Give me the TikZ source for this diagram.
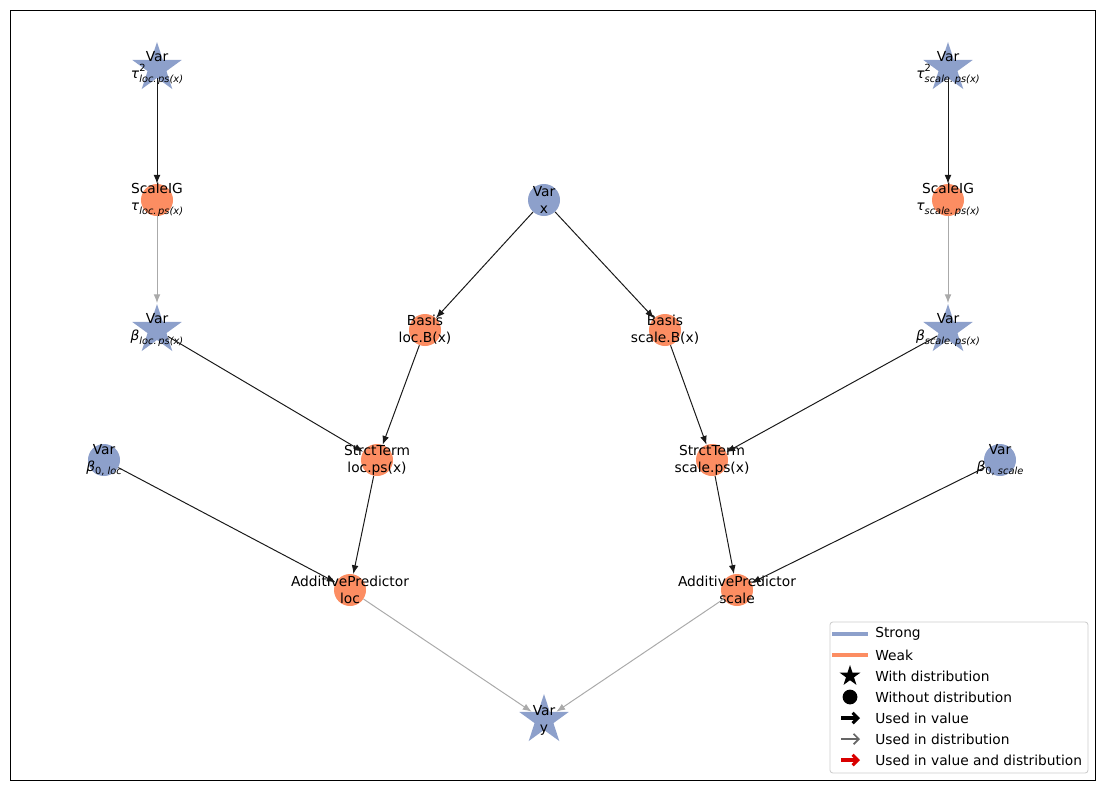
\documentclass[tikz,border=0pt]{standalone}
\usepackage{fontspec}
\setmainfont{DejaVu Sans}
\usepackage{tikz}
\usetikzlibrary{shapes.geometric, arrows.meta, positioning}
\definecolor{strong-blue}{HTML}{8DA0CB}
\definecolor{weak-orange}{HTML}{FC8D62}
\definecolor{dist-gray}{HTML}{AAAAAA}
\newcommand{\subsz}{\fontsize{7}{8}\selectfont}
\newcommand{\sym}[2]{\textit{#1}\raisebox{-0.5ex}{\subsz\itshape #2}}
\newcommand{\symsq}[2]{\textit{#1}\rlap{\raisebox{0.95ex}{\subsz 2}}\raisebox{-0.6ex}{\subsz\itshape #2}}

\begin{document}
\begin{tikzpicture}[
    x=0.025cm, y=-0.025cm,
    lbl/.style={align=center, inner sep=0pt, font=\fontsize{9.8}{12}\selectfont},
    strongstar/.style={star, star points=5, star point ratio=2.618, fill=strong-blue, inner sep=0pt, minimum size=1.3cm},
    strongdot/.style={circle, fill=strong-blue, inner sep=0pt, minimum size=0.8cm},
    weakdot/.style={circle, fill=weak-orange, inner sep=0pt, minimum size=0.8cm},
    valedge/.style={-{Latex[length=2.2mm, width=1.7mm]}, line width=0.7pt, black!90},
    distedge/.style={-{Latex[length=2.2mm, width=1.7mm]}, line width=0.7pt, dist-gray},
    legtext/.style={anchor=west, inner sep=0pt, font=\fontsize{9.8}{12}\selectfont}
]
    \useasboundingbox (0,0) rectangle (1105,790);
    \draw[line width=0.6pt] (10,10) rectangle (1095,780);

    % loc side
    \node (tauL) [strongstar, label={[lbl]center:Var\\\symsq{τ}{loc.\,ps(x)}}] at (157,68) {};
    \node (sigL) [weakdot, label={[lbl]center:ScaleIG\\\sym{τ}{loc.\,ps(x)}}] at (157,200) {};
    \node (betaL) [strongstar, label={[lbl]center:Var\\\sym{β}{loc.\,ps(x)}}] at (157,330) {};
    \node (bzeroL) [strongdot, label={[lbl]center:Var\\\sym{β}{\upshape 0, \itshape loc}}] at (104,460) {};
    \node (basisL) [weakdot, label={[lbl]center:Basis\\loc.B(x)}] at (425,330) {};
    \node (termL) [weakdot, label={[lbl]center:StrctTerm\\loc.ps(x)}] at (377,460) {};
    \node (predL) [weakdot, label={[lbl]center:AdditivePredictor\\loc}] at (350,590) {};

    % scale side
    \node (tauS) [strongstar, label={[lbl]center:Var\\\symsq{τ}{scale.\,ps(x)}}] at (948,68) {};
    \node (sigS) [weakdot, label={[lbl]center:ScaleIG\\\sym{τ}{scale.\,ps(x)}}] at (948,200) {};
    \node (betaS) [strongstar, label={[lbl]center:Var\\\sym{β}{scale.\,ps(x)}}] at (948,330) {};
    \node (bzeroS) [strongdot, label={[lbl]center:Var\\\sym{β}{\upshape 0, \itshape scale}}] at (1000,460) {};
    \node (basisS) [weakdot, label={[lbl]center:Basis\\scale.B(x)}] at (665,330) {};
    \node (termS) [weakdot, label={[lbl]center:StrctTerm\\scale.ps(x)}] at (712,460) {};
    \node (predS) [weakdot, label={[lbl]center:AdditivePredictor\\scale}] at (737,590) {};

    % shared
    \node (varx) [strongdot, label={[lbl]center:Var\\x}] at (544,200) {};
    \node (vary) [strongstar, label={[lbl]center:Var\\y}] at (544,720) {};

    \draw [valedge] (tauL) -- (sigL);
    \draw [distedge] (sigL) -- (betaL);
    \draw [valedge] (betaL) -- (termL);
    \draw [valedge] (varx) -- (basisL);
    \draw [valedge] (basisL) -- (termL);
    \draw [valedge] (termL) -- (predL);
    \draw [valedge] (bzeroL) -- (predL);
    \draw [distedge] (predL) -- (vary);

    \draw [valedge] (tauS) -- (sigS);
    \draw [distedge] (sigS) -- (betaS);
    \draw [valedge] (betaS) -- (termS);
    \draw [valedge] (varx) -- (basisS);
    \draw [valedge] (basisS) -- (termS);
    \draw [valedge] (termS) -- (predS);
    \draw [valedge] (bzeroS) -- (predS);
    \draw [distedge] (predS) -- (vary);

    % legend
    \node (legend) [draw=black!20, fill=white, rounded corners=2pt, line width=0.6pt,
        minimum width=258*0.025cm, minimum height=151*0.025cm] at (959,697.5) {};
    \node (lgStrong) [legtext] at (875,634) {Strong};
    \node (lgWeak) [legtext] at (875,655) {Weak};
    \node (lgStar) [legtext] at (875,676) {With distribution};
    \node (lgDot) [legtext] at (875,697) {Without distribution};
    \node (lgVal) [legtext] at (875,718) {Used in value};
    \node (lgDist) [legtext] at (875,739) {Used in distribution};
    \node (lgBoth) [legtext] at (875,760) {Used in value and distribution};
    \draw [strong-blue, line width=3pt] (832,634) -- (868,634);
    \draw [weak-orange, line width=3pt] (832,655) -- (868,655);
    \node (mkStar) [star, star points=5, star point ratio=2.618, fill=black, inner sep=0pt, minimum size=0.55cm] at (850,676) {};
    \node (mkDot) [circle, fill=black, inner sep=0pt, minimum size=0.37cm] at (850,697) {};
    \draw [-{Straight Barb[length=1.3mm, width=2.6mm]}, line width=2.2pt, black] (841,718) -- (860,718);
    \draw [-{Straight Barb[length=1.3mm, width=2.6mm]}, line width=1.2pt, black!60] (841,739) -- (860,739);
    \draw [-{Straight Barb[length=1.3mm, width=2.6mm]}, line width=2.2pt, red!85!black] (841,760) -- (860,760);
\end{tikzpicture}
\end{document}
